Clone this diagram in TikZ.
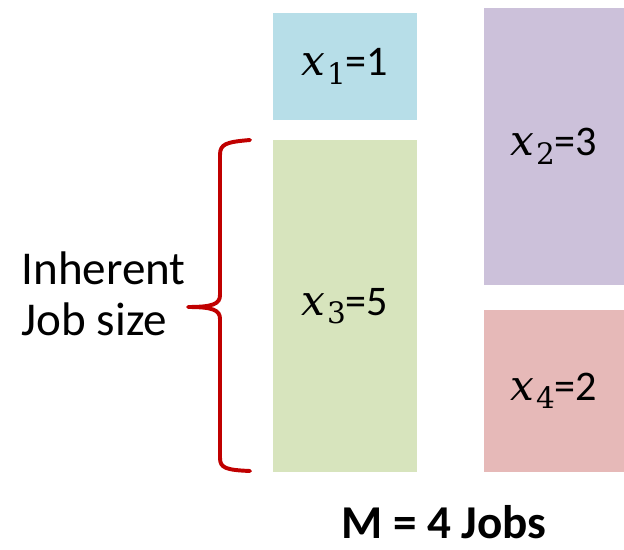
\documentclass[tikz,border=0pt]{standalone}
\usepackage{fontspec}
\setmainfont{Carlito}
\newfontfamily\jobserif{DejaVu Serif}
\usepackage{tikz}

\definecolor{jobblue}{RGB}{183,222,232}
\definecolor{jobgreen}{RGB}{215,228,189}
\definecolor{jobpurple}{RGB}{204,193,218}
\definecolor{jobpink}{RGB}{230,185,184}
\definecolor{bracered}{RGB}{192,0,0}

% italic x with lowered index
\newcommand{\jobvar}[1]{{\jobserif\fontsize{30}{30}\selectfont\itshape x}\kern1pt\raisebox{-6pt}{\jobserif\fontsize{21}{21}\selectfont #1}}

\tikzset{
  job/.style={inner sep=0pt, font=\fontsize{30}{36}\selectfont},
  brace/.style={draw=bracered, line width=2.8pt, line cap=round, line join=round},
  sidetext/.style={inner sep=0pt, align=left, font=\fontsize{33.5}{36.3}\selectfont}
}

\begin{document}
\begin{tikzpicture}[x=0.025cm,y=-0.025cm]
\useasboundingbox (0,0) rectangle (624,550);

% Left column
\node[job, fill=jobblue, minimum width=3.6cm, minimum height=2.675cm] (x1) at (345,66.5) {\jobvar{1}=1};
\node[job, fill=jobgreen, minimum width=3.6cm, minimum height=8.3cm] (x3) at (345,306) {\jobvar{3}=5};

% Right column
\node[job, fill=jobpurple, minimum width=3.5cm, minimum height=6.925cm] (x2) at (554,146.5) {\jobvar{2}=3};
\node[job, fill=jobpink, minimum width=3.5cm, minimum height=4.05cm] (x4) at (554,391) {\jobvar{4}=2};

% Brace
\coordinate (btop) at (250,140);
\coordinate (btip) at (188,307);
\coordinate (bbot) at (250,471);

\draw[brace] (btop) .. controls (226,142) and (220,144) .. (220,155) -- (220,295)
  .. controls (220,304) and (213,307) .. (btip)
  .. controls (213,307) and (220,310) .. (220,319) -- (220,458)
  .. controls (220,468) and (226,470) .. (bbot);

\node[sidetext, anchor=east] (size) at (186,294) {Inherent\\Job size};

\node[inner sep=0pt, anchor=base, font=\fontsize{33.5}{40}\selectfont\bfseries] (jobs) at (444,538) {M = 4 Jobs};

\end{tikzpicture}
\end{document}
